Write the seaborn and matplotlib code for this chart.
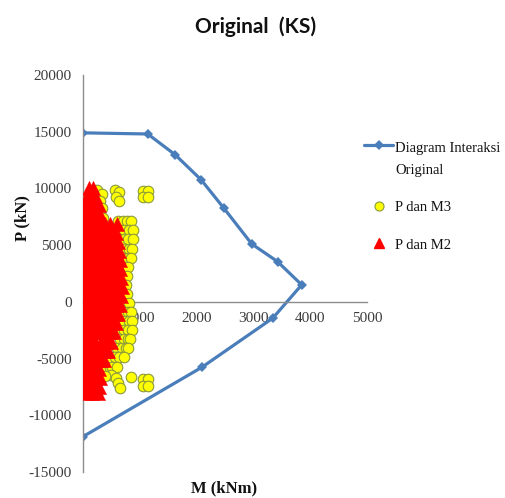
import matplotlib
matplotlib.use("Agg")
import matplotlib.pyplot as plt
from matplotlib.lines import Line2D
from matplotlib.legend_handler import HandlerLine2D
import numpy as np
import seaborn as sns
import pandas as pd

# Interaction diagram (M, P) of the original column section
curve_m = [0, 1140, 1625, 2080, 2480, 2970, 3425, 3850, 3340, 2095, 0]
curve_p = [14900, 14800, 12960, 10760, 8260, 5110, 3550, 1500, -1440, -5760, -11880]

# Load pairs P - M3
m3 = [
    1060, 1150, 1060, 1150,
    560, 640, 580, 630,
    250, 330, 300, 330, 280, 360,
    20, 30,
    620, 700, 780, 850,
    650, 730, 810, 880,
    640, 720, 800, 880,
    650, 730, 810, 870,
    640, 720, 800, 840,
    650, 720, 790,
    640, 710, 770,
    650, 710, 760,
    640, 710, 780,
    650, 730, 810,
    640, 720, 800, 850,
    650, 730, 810, 870,
    640, 720, 800, 860,
    650, 720, 790, 830,
    600, 680, 760, 790,
    480, 560, 640, 720,
    330, 420, 510, 600,
    490, 580, 620, 650, 840, 300, 380,
    1060, 1150, 1060, 1150,
]
p3 = [
    9800, 9800, 9250, 9250,
    9850, 9700, 9250, 8900,
    9900, 9500, 8900, 8300, 7800, 7400,
    8200, 7600,
    7100, 7100, 7100, 7100,
    6300, 6300, 6300, 6300,
    5500, 5500, 5500, 5500,
    4700, 4700, 4700, 4700,
    3900, 3900, 3900, 3900,
    3100, 3100, 3100,
    2300, 2300, 2300,
    1500, 1500, 1500,
    700, 700, 700,
    -100, -100, -100,
    -900, -900, -900, -900,
    -1700, -1700, -1700, -1700,
    -2500, -2500, -2500, -2500,
    -3300, -3300, -3300, -3300,
    -4100, -4100, -4100, -4100,
    -4900, -4900, -4900, -4900,
    -5700, -5700, -5700, -5700,
    -6450, -6700, -7150, -7600, -6600, -6000, -6500,
    -6800, -6800, -7400, -7400,
]

# Load pairs P - M2
m2 = [
    110, 170,
    70, 140, 210,
    40, 130, 220, 290,
    30, 120, 210, 300,
    20, 110, 200, 290, 390, 480, 590,
    40, 130, 220, 310, 400, 490, 580,
    20, 110, 200, 290, 380, 470, 560, 620,
    40, 130, 220, 310, 400, 490, 580, 640,
    20, 110, 200, 290, 380, 470, 560, 650,
    40, 130, 220, 310, 400, 490, 580, 660,
    20, 110, 200, 290, 380, 470, 560, 670,
    40, 130, 220, 310, 400, 490, 580, 680,
    20, 110, 200, 290, 380, 470, 560, 670,
    40, 130, 220, 310, 400, 490, 580, 650,
    20, 110, 200, 290, 380, 470, 560, 620,
    40, 130, 220, 310, 400, 490, 580,
    20, 110, 200, 290, 380, 470, 540,
    40, 130, 220, 310, 400, 490,
    20, 110, 200, 290, 380, 440,
    40, 130, 220, 310, 370,
    20, 110, 200, 290,
    40, 130, 220, 300,
    30, 120, 210, 290,
    60, 160, 260,
]
p2 = [
    10000, 10000,
    9300, 9300, 9300,
    8500, 8500, 8500, 8500,
    7700, 7700, 7700, 7700,
    6900, 6900, 6900, 6900, 6900, 6900, 6900,
    6100, 6100, 6100, 6100, 6100, 6100, 6100,
    5300, 5300, 5300, 5300, 5300, 5300, 5300, 5300,
    4500, 4500, 4500, 4500, 4500, 4500, 4500, 4500,
    3700, 3700, 3700, 3700, 3700, 3700, 3700, 3700,
    2900, 2900, 2900, 2900, 2900, 2900, 2900, 2900,
    2100, 2100, 2100, 2100, 2100, 2100, 2100, 2100,
    1300, 1300, 1300, 1300, 1300, 1300, 1300, 1300,
    500, 500, 500, 500, 500, 500, 500, 500,
    -300, -300, -300, -300, -300, -300, -300, -300,
    -1100, -1100, -1100, -1100, -1100, -1100, -1100, -1100,
    -1900, -1900, -1900, -1900, -1900, -1900, -1900,
    -2700, -2700, -2700, -2700, -2700, -2700, -2700,
    -3500, -3500, -3500, -3500, -3500, -3500,
    -4300, -4300, -4300, -4300, -4300, -4300,
    -5100, -5100, -5100, -5100, -5100,
    -5900, -5900, -5900, -5900,
    -6700, -6700, -6700, -6700,
    -7500, -7500, -7500, -7500,
    -8000, -8000, -8000,
]

x_ticks = [1000, 2000, 3000, 4000, 5000]
y_ticks = [-15000, -10000, -5000, 0, 5000, 10000, 15000, 20000]

title = "Original  (KS)"
x_label = "M (kNm)"
y_label = "P (kN)"
legend_labels = ["Diagram Interaksi\nOriginal", "P dan M3", "P dan M2"]

BLUE = "#4a7ebb"
YELLOW = "#ffff00"
YELLOW_EDGE = "#8a9a3a"
RED = "#ff0000"
TEXT = "#3b3b3b"
AXIS = "#8c8c8c"

sns.set_theme(style="white")
plt.rcParams["font.family"] = ["Liberation Serif", "DejaVu Serif"]
plt.rcParams["axes.unicode_minus"] = False

curve = pd.DataFrame({"M": curve_m, "P": curve_p})
d3 = pd.DataFrame({"M": m3, "P": p3})
d2 = pd.DataFrame({"M": m2, "P": p2})

fig = plt.figure(figsize=(5.06, 4.98), dpi=100)
ax = fig.add_axes([83 / 506, 1 - 472 / 498, (367 - 83) / 506, (472 - 75) / 498])

sns.lineplot(data=curve, x="M", y="P", sort=False, estimator=None, ax=ax,
             color=BLUE, lw=2.3, marker="D", markersize=5,
             markeredgewidth=0, zorder=2)
sns.scatterplot(data=d3, x="M", y="P", ax=ax, marker="o", s=58,
                color=YELLOW, edgecolor=YELLOW_EDGE, linewidth=0.8, zorder=3)
sns.scatterplot(data=d2, x="M", y="P", ax=ax, marker="^", s=105,
                color=RED, edgecolor=RED, linewidth=0.3, zorder=4)

ax.set_xlim(0, 5000)
ax.set_ylim(-15000, 20000)
ax.set_xticks(x_ticks)
ax.set_yticks(y_ticks)
ax.set_xlabel("")
ax.set_ylabel("")

for side in ("top", "right"):
    ax.spines[side].set_visible(False)
ax.spines["bottom"].set_position(("data", 0))
for side in ("left", "bottom"):
    ax.spines[side].set_color(AXIS)
    ax.spines[side].set_linewidth(1.0)
ax.tick_params(axis="both", which="major", direction="out", length=4,
               width=1.0, color=AXIS, labelcolor=TEXT, labelsize=11)
ax.tick_params(axis="x", pad=3)
ax.tick_params(axis="y", pad=4)

fig.text(256 / 506, 1 - 27 / 498, title, ha="center", va="center",
         fontsize=15, fontweight="bold", family="Lato", color="#111111")
fig.text(224 / 506, 1 - 488 / 498, x_label, ha="center", va="center",
         fontsize=12, fontweight="bold", color="#111111")
fig.text(22 / 506, 1 - 218 / 498, y_label, ha="center", va="center",
         rotation=90, fontsize=12, fontweight="bold", color="#111111")


class FirstLineHandler(HandlerLine2D):
    """Line handle lifted to sit beside the first line of a two-line label."""

    def __init__(self, lift, **kw):
        super().__init__(**kw)
        self.lift = lift

    def create_artists(self, legend, orig_handle, xdescent, ydescent,
                       width, height, fontsize, trans):
        artists = super().create_artists(legend, orig_handle, xdescent, ydescent,
                                         width, height, fontsize, trans)
        for a in artists:
            a.set_ydata(np.asarray(a.get_ydata(), dtype=float) + self.lift)
        return artists


curve_handle = Line2D([], [], color=BLUE, lw=2.3, marker="D", markersize=5,
                      markeredgewidth=0)
handles = [
    curve_handle,
    Line2D([], [], ls="", marker="o", markersize=6.5, markerfacecolor=YELLOW,
           markeredgecolor=YELLOW_EDGE, markeredgewidth=0.8),
    Line2D([], [], ls="", marker="^", markersize=6.5, markerfacecolor=RED,
           markeredgecolor=RED),
]
leg = fig.legend(handles, legend_labels, loc="upper left",
                 bbox_to_anchor=(364 / 506, 1 - 142 / 498), frameon=False,
                 fontsize=10.5, handlelength=2.0, handletextpad=0.12,
                 labelspacing=1.65, borderpad=0, borderaxespad=0,
                 handler_map={curve_handle: FirstLineHandler(lift=10.2)})
for t in leg.get_texts():
    t.set_color("#111111")
leg.get_texts()[0].set_linespacing(1.9)

fig.savefig("out.png", dpi=100, facecolor="white")
